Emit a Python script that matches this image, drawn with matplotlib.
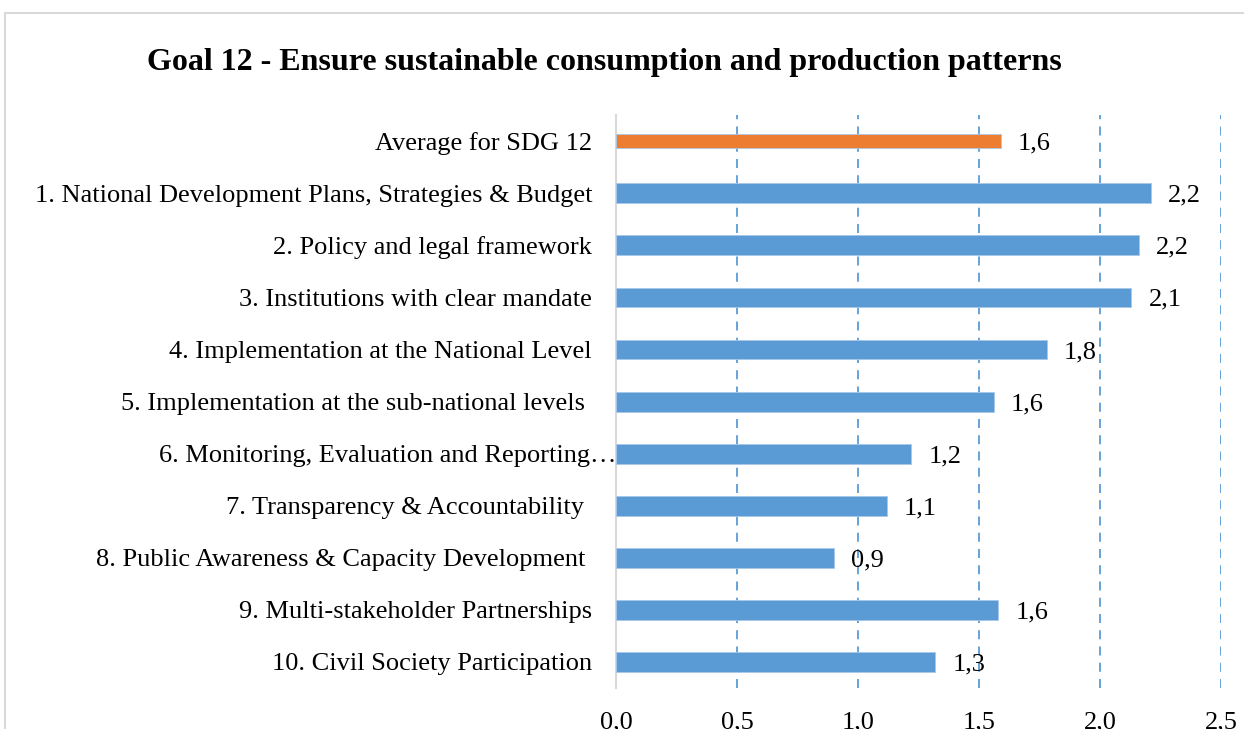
import matplotlib.pyplot as plt
from matplotlib.patches import Rectangle
from matplotlib.ticker import FuncFormatter
from matplotlib import transforms

plt.rcParams['font.family'] = ['Liberation Serif', 'DejaVu Serif']

# data
labels = ['Average for SDG 12',
          '1. National Development Plans, Strategies & Budget',
          '2. Policy and legal framework',
          '3. Institutions with clear mandate',
          '4. Implementation at the National Level',
          '5. Implementation at the sub-national levels',
          '6. Monitoring, Evaluation and Reporting\u2026',
          '7. Transparency & Accountability',
          '8. Public Awareness & Capacity Development',
          '9. Multi-stakeholder Partnerships',
          '10. Civil Society Participation']
values = [1.59, 2.21, 2.16, 2.13, 1.78, 1.56, 1.22, 1.12, 0.90, 1.58, 1.32]
# per-label gap between label and axis (pixels), trailing spaces in the source
label_gap = [24, 24, 24, 24, 24, 31, 0, 32, 31, 24, 24]
xticks = [0.0, 0.5, 1.0, 1.5, 2.0, 2.5]

blue = '#5B9BD5'
orange = '#ED7D31'

fig = plt.figure(figsize=(12.44, 7.29), dpi=100)
fig.patches.append(Rectangle((0.004, -0.1), 1.2, 0.1 + 0.982, transform=fig.transFigure,
                             fill=False, edgecolor='#D9D9D9', linewidth=1.5))

ax = fig.add_axes([0.4952, 0.0562, 0.9815 - 0.4952, 0.842 - 0.0562])

pos = list(range(len(labels)))
colors = [orange] + [blue] * (len(labels) - 1)
heights = [0.27] + [0.38] * (len(labels) - 1)
ax.barh(pos, values, height=heights, color=colors, edgecolor='#A9C8E8', linewidth=0.6,
        zorder=3)
ax.set_ylim(len(labels) - 0.5, -0.5)
ax.set_xlim(0, 2.5)
ax.set_xticks(xticks)
ax.xaxis.set_major_formatter(FuncFormatter(lambda v, p: f'{v:.1f}'.replace('.', ',')))
ax.tick_params(axis='x', length=0, pad=17, labelsize=19)
ax.set_yticks([])

for g in xticks[1:]:
    ax.axvline(g, color=blue, linewidth=1.3, linestyle=(0, (5, 4)), zorder=1)

for s in ['top', 'right', 'bottom']:
    ax.spines[s].set_visible(False)
ax.spines['left'].set_color('#D9D9D9')
ax.spines['left'].set_linewidth(1.5)

for i, (lab, v) in enumerate(zip(labels, values)):
    off = transforms.offset_copy(ax.transData, fig=fig, x=-label_gap[i], y=0, units='dots')
    ax.text(0, i, lab, transform=off, ha='right', va='center_baseline', fontsize=19)
    offv = transforms.offset_copy(ax.transData, fig=fig, x=17, y=0, units='dots')
    ax.text(v, i, f'{v:.1f}'.replace('.', ','), transform=offv, ha='left',
            va='center_baseline', fontsize=19, zorder=4)

fig.text(0.486, 0.914, 'Goal 12 - Ensure sustainable consumption and production patterns',
         ha='center', va='center', fontsize=23, fontweight='bold')

fig.savefig('out.png', dpi=100)
